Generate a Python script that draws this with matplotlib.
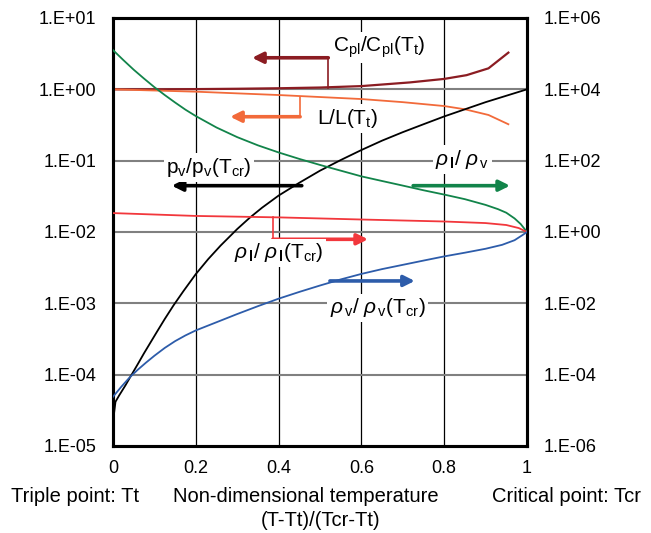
import matplotlib
matplotlib.use("Agg")
import matplotlib.pyplot as plt
from matplotlib.ticker import NullLocator

plt.rcParams["font.family"] = ["Liberation Sans", "DejaVu Sans"]
plt.rcParams["mathtext.fontset"] = "custom"
plt.rcParams["mathtext.rm"] = "Liberation Sans"
plt.rcParams["mathtext.it"] = "Liberation Sans:italic"
plt.rcParams["mathtext.bf"] = "Liberation Sans:bold"

# ---- data: non-dimensional temperature (T-Tt)/(Tcr-Tt) ----
# left axis quantities
t_cp = [0.0, 0.1, 0.2, 0.3, 0.4, 0.5, 0.6, 0.717, 0.8, 0.854, 0.907, 0.955]
cp_ratio = [1.0, 1.0, 1.007, 1.018, 1.035, 1.06, 1.11, 1.25, 1.40, 1.58, 1.97, 3.27]

t_lat = [0.0, 0.2, 0.4, 0.6, 0.7, 0.8, 0.85, 0.907, 0.955]
latent_ratio = [1.0, 0.927, 0.832, 0.731, 0.661, 0.583, 0.525, 0.437, 0.324]

t_pv = [0.003, 0.006, 0.015, 0.03, 0.045, 0.06, 0.075, 0.09, 0.106, 0.125,
        0.146, 0.17, 0.2, 0.23, 0.26, 0.3, 0.33, 0.36, 0.4, 0.45, 0.5, 0.55,
        0.6, 0.65, 0.7, 0.75, 0.8, 0.85, 0.9, 0.95, 1.0]
pv_ratio = [3.02e-5, 4.17e-5, 5.13e-5, 7.08e-5, 1.00e-4, 1.41e-4, 2.00e-4,
            2.79e-4, 3.98e-4, 6.03e-4, 9.33e-4, 1.48e-3, 2.57e-3, 4.17e-3,
            6.46e-3, 1.10e-2, 1.58e-2, 2.19e-2, 3.24e-2, 4.90e-2, 7.24e-2,
            0.102, 0.141, 0.191, 0.251, 0.324, 0.417, 0.525, 0.661, 0.813, 1.0]

# right axis quantities
t_rlrv = [0.0, 0.025, 0.05, 0.075, 0.1, 0.125, 0.15, 0.175, 0.2, 0.25, 0.3,
          0.35, 0.4, 0.45, 0.5, 0.55, 0.6, 0.65, 0.7, 0.75, 0.8, 0.85, 0.9,
          0.93, 0.95, 0.97, 0.985, 1.0]
rhol_rhov = [1.26e5, 6.61e4, 3.55e4, 2.0e4, 1.15e4, 6.92e3, 4.27e3, 2.69e3,
             1.78e3, 851, 457, 269, 170, 112, 75.9, 52.5, 36.3, 26.9, 20.0,
             14.8, 11.2, 8.32, 5.75, 4.37, 3.47, 2.40, 1.66, 1.0]

t_rl = [0.0, 0.2, 0.4, 0.6, 0.8, 0.9, 0.95, 0.98, 1.0]
rhol_ratio = [3.39, 2.82, 2.57, 2.24, 1.97, 1.78, 1.57, 1.29, 1.0]

t_rv = [0.0, 0.02, 0.04, 0.06, 0.08, 0.1, 0.125, 0.15, 0.175, 0.2, 0.25, 0.3,
        0.35, 0.4, 0.45, 0.5, 0.55, 0.6, 0.65, 0.7, 0.75, 0.8, 0.85, 0.9,
        0.94, 0.97, 0.99, 1.0]
rhov_ratio = [2.40e-5, 4.57e-5, 8.32e-5, 1.38e-4, 2.19e-4, 3.39e-4, 5.62e-4,
              8.71e-4, 1.26e-3, 1.74e-3, 2.95e-3, 5.01e-3, 8.32e-3, 1.35e-2,
              2.09e-2, 3.16e-2, 4.68e-2, 6.68e-2, 9.12e-2, 0.120, 0.158,
              0.207, 0.263, 0.339, 0.437, 0.589, 0.832, 1.0]

x_ticks = [0, 0.2, 0.4, 0.6, 0.8, 1]
x_ticklabels = ["0", "0.2", "0.4", "0.6", "0.8", "1"]
left_ticks = [1e-5, 1e-4, 1e-3, 1e-2, 1e-1, 1e0, 1e1]
left_ticklabels = ["1.E-05", "1.E-04", "1.E-03", "1.E-02", "1.E-01", "1.E+00", "1.E+01"]
right_ticks = [1e-6, 1e-4, 1e-2, 1e0, 1e2, 1e4, 1e6]
right_ticklabels = ["1.E-06", "1.E-04", "1.E-02", "1.E+00", "1.E+02", "1.E+04", "1.E+06"]

C_CP = "#8b1c22"
C_LAT = "#f26a3a"
C_PV = "black"
C_RLRV = "#12844a"
C_RL = "#f2373c"
C_RV = "#2d5caa"

fig = plt.figure(figsize=(6.51, 5.33), dpi=100)
ax = fig.add_axes([113 / 651, 1 - 446 / 533, 414 / 651, 428 / 533])
ax.set_xlim(0, 1)
ax.set_yscale("log")
ax.set_ylim(1e-5, 1e1)
ax.set_xticks(x_ticks)
ax.set_xticklabels(x_ticklabels, fontsize=13)
ax.set_yticks(left_ticks)
ax.set_yticklabels(left_ticklabels, fontsize=13)
ax.yaxis.set_minor_locator(NullLocator())
ax.tick_params(axis="both", length=0)
ax.tick_params(axis="y", pad=12)
ax.tick_params(axis="x", pad=10)

for v in x_ticks[1:-1]:
    ax.axvline(v, color="black", lw=0.9, zorder=0)
for v in left_ticks[1:-1]:
    ax.axhline(v, color="#808080", lw=1.5, zorder=0)

ax2 = ax.twinx()
ax2.set_yscale("log")
ax2.set_ylim(1e-6, 1e6)
ax2.set_yticks(right_ticks)
ax2.set_yticklabels(right_ticklabels, fontsize=13)
ax2.yaxis.set_minor_locator(NullLocator())
ax2.tick_params(axis="y", length=0, pad=12)

for a in (ax, ax2):
    for s in a.spines.values():
        s.set_linewidth(2.2)
        s.set_color("black")

# curves
ax.plot(t_cp, cp_ratio, color=C_CP, lw=1.6, zorder=3)
ax.plot(t_lat, latent_ratio, color=C_LAT, lw=1.3, zorder=3)
ax.plot(t_pv, pv_ratio, color=C_PV, lw=1.3, zorder=3)
ax2.plot(t_rlrv, rhol_rhov, color=C_RLRV, lw=1.3, zorder=3)
ax2.plot(t_rl, rhol_ratio, color=C_RL, lw=1.3, zorder=3)
ax2.plot(t_rv, rhov_ratio, color=C_RV, lw=1.3, zorder=3)

# arrows pointing to the axis each curve belongs to
def arrow(tail, head, color):
    ax2.annotate("", xy=head, xytext=tail, xycoords=ax.transData,
                 textcoords=ax.transData,
                 arrowprops=dict(arrowstyle="-|>", lw=2.6, color=color,
                                 mutation_scale=16, shrinkA=0, shrinkB=0),
                 zorder=5)

def connector(x, y0, y1, color):
    ax.plot([x, x], [y0, y1], color=color, lw=1.2, zorder=4)

connector(0.52, 1.03, 2.77, C_CP)
arrow((0.52, 2.77), (0.336, 2.77), C_CP)
connector(0.452, 0.78, 0.413, C_LAT)
arrow((0.452, 0.413), (0.283, 0.413), C_LAT)
arrow((0.456, 0.0446), (0.142, 0.0446), C_PV)
arrow((0.725, 0.0446), (0.959, 0.0446), C_RLRV)
connector(0.386, 0.0161, 7.9e-3, C_RL)
arrow((0.386, 7.9e-3), (0.616, 7.9e-3), C_RL)
arrow((0.524, 2.06e-3), (0.729, 2.06e-3), C_RV)

box = dict(facecolor="white", edgecolor="none", pad=2)
lab = dict(transform=ax.transData, fontsize=15, ha="center", va="baseline",
           bbox=box, zorder=6)
ax2.text(0.643, 3.33, r"C$_{\mathregular{pl}}$/C$_{\mathregular{pl}}$(T$_{\mathregular{t}}$)", **lab)
ax2.text(0.566, 0.327, r"L/L(T$_{\mathregular{t}}$)", **lab)
ax2.text(0.232, 0.0671, r"p$_{\mathregular{v}}$/p$_{\mathregular{v}}$(T$_{\mathregular{cr}}$)", **lab)
ax2.text(0.844, 0.087, r"$\rho_{\,\mathbf{l}}$/ $\rho_{\,\mathregular{v}}$", **lab)
ax2.text(0.40, 4.27e-3, r"$\rho_{\,\mathbf{l}}$/ $\rho_{\,\mathbf{l}}$(T$_{\mathregular{cr}}$)", **lab)
ax2.text(0.639, 7.24e-4, r"$\rho_{\,\mathregular{v}}$/ $\rho_{\,\mathregular{v}}$(T$_{\mathregular{cr}}$)", **lab)

fig.text(75 / 651, 1 - 497 / 533, "Triple point: Tt", fontsize=14.5, ha="center", va="center")
fig.text(306 / 651, 1 - 497 / 533, "Non-dimensional temperature", fontsize=14.5, ha="center", va="center")
fig.text(321 / 651, 1 - 521 / 533, "(T-Tt)/(Tcr-Tt)", fontsize=14.5, ha="center", va="center")
fig.text(567 / 651, 1 - 497 / 533, "Critical point: Tcr", fontsize=14.5, ha="center", va="center")

fig.savefig("out.png", dpi=100)
